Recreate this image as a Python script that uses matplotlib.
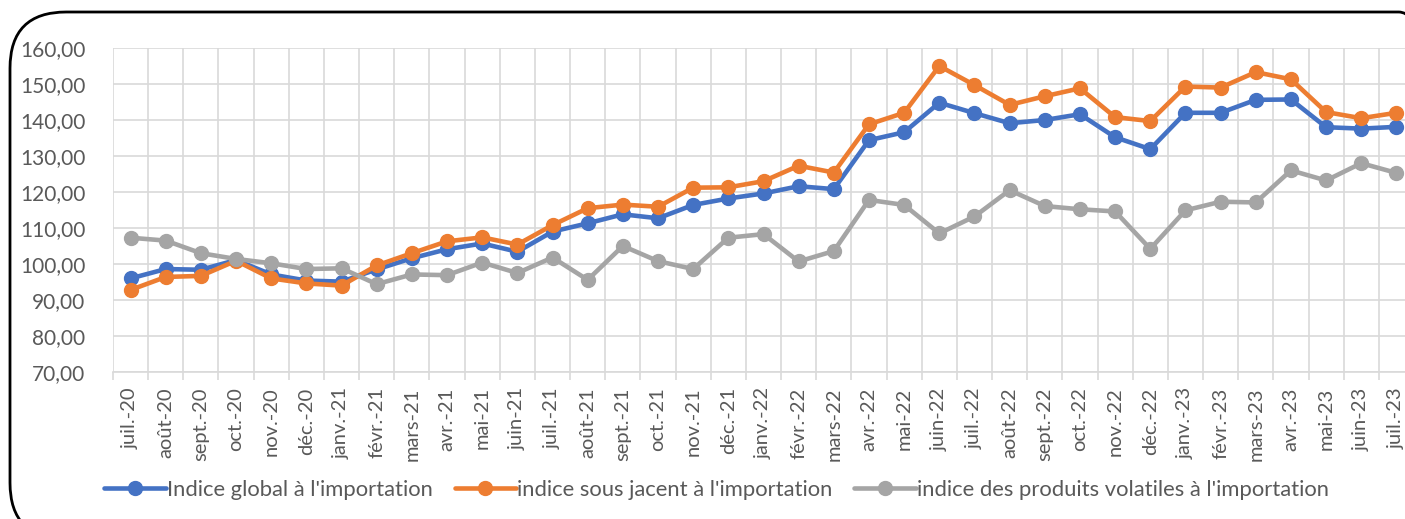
import matplotlib.pyplot as plt
from matplotlib.patches import FancyBboxPatch
from matplotlib.ticker import FuncFormatter, FixedLocator

months = ["juil.-20", "août-20", "sept.-20", "oct.-20", "nov.-20", "déc.-20",
          "janv.-21", "févr.-21", "mars-21", "avr.-21", "mai-21", "juin-21",
          "juil.-21", "août-21", "sept.-21", "oct.-21", "nov.-21", "déc.-21",
          "janv.-22", "févr.-22", "mars-22", "avr.-22", "mai-22", "juin-22",
          "juil.-22", "août-22", "sept.-22", "oct.-22", "nov.-22", "déc.-22",
          "janv.-23", "févr.-23", "mars-23", "avr.-23", "mai-23", "juin-23",
          "juil.-23"]

indice_global = [96.0, 98.6, 98.4, 101.1, 97.1, 95.4, 95.1, 98.5, 101.6, 104.1,
                 105.7, 103.4, 109.0, 111.3, 113.8, 112.7, 116.4, 118.2, 119.6,
                 121.6, 120.8, 134.4, 136.6, 144.8, 141.9, 139.1, 140.0, 141.6,
                 135.2, 131.9, 142.0, 142.0, 145.6, 145.7, 138.0, 137.6, 138.1]

indice_sous_jacent = [92.8, 96.4, 96.7, 100.9, 96.0, 94.6, 94.0, 99.6, 103.0, 106.3,
                      107.4, 105.4, 110.8, 115.5, 116.5, 115.9, 121.2, 121.3, 123.0,
                      127.3, 125.4, 138.8, 142.0, 155.0, 149.7, 144.2, 146.6, 148.8,
                      140.8, 139.7, 149.3, 149.0, 153.3, 151.3, 142.2, 140.5, 142.0]

indice_volatiles = [107.3, 106.5, 103.0, 101.4, 100.2, 98.6, 98.8, 94.4, 97.1, 96.9,
                    100.4, 97.5, 101.8, 95.6, 105.0, 100.8, 98.6, 107.3, 108.3,
                    100.7, 103.6, 117.8, 116.4, 108.5, 113.2, 120.5, 116.1, 115.2,
                    114.6, 104.2, 114.9, 117.3, 117.1, 126.0, 123.2, 128.0, 125.3]

series = [
    ("Indice global à l'importation", indice_global, "#4472C4"),
    ("indice sous jacent à l'importation", indice_sous_jacent, "#ED7D31"),
    ("indice des produits volatiles à l'importation", indice_volatiles, "#A5A5A5"),
]

plt.rcParams['font.family'] = ['Lato', 'DejaVu Sans']

W, H = 1405, 519
fig = plt.figure(figsize=(W / 100, H / 100), dpi=100)

# plot area in pixels: left 113, top 48, bottom 372, right past the crop
left, top, bottom, right = 113, 48, 372, 1414
ax = fig.add_axes([left / W, 1 - bottom / H, (right - left) / W, (bottom - top) / H])

x = list(range(len(months)))
for label, vals, color in series:
    ax.plot(x, vals, color=color, lw=3.3, marker='o', ms=10, label=label,
            solid_capstyle='round', clip_on=False)

ax.set_xlim(-0.5, len(months) - 0.5)
ax.set_ylim(70, 160)
ax.set_yticks(range(70, 161, 10))
ax.yaxis.set_major_formatter(FuncFormatter(lambda v, p: f"{v:.2f}".replace('.', ',')))
ax.set_xticks(x)
ax.set_xticklabels(months, rotation=90, fontsize=14.5, color='#595959')
ax.xaxis.set_minor_locator(FixedLocator([i - 0.5 for i in range(len(months) + 1)]))
ax.tick_params(axis='x', which='major', length=0, pad=11)
ax.tick_params(axis='x', which='minor', length=6, color='#d9d9d9', width=1.2)
ax.tick_params(axis='y', length=0, labelsize=15, labelcolor='#595959', pad=20)

ax.grid(True, which='minor', axis='x', color='#d9d9d9', lw=1.2)
ax.grid(True, which='major', axis='y', color='#d9d9d9', lw=1.2)
ax.set_axisbelow(True)
for s in ['top', 'right', 'left']:
    ax.spines[s].set_visible(False)
ax.spines['bottom'].set_color('#d9d9d9')
ax.spines['bottom'].set_linewidth(1.2)

fig.legend(loc='center', bbox_to_anchor=(0.51, 1 - 490 / H), ncol=3, frameon=False,
           fontsize=15.8, labelcolor='#595959', handlelength=2.8, handletextpad=0.05,
           columnspacing=1.0)

# rounded chart border, cut off on the right like the original
border = FancyBboxPatch((10 / W, -20 / H), (W + 40) / W, (H - 12 + 20) / H,
                        boxstyle="round,pad=0,rounding_size=0.04",
                        transform=fig.transFigure, fill=False, ec='black', lw=2,
                        mutation_aspect=W / H)
fig.patches.append(border)

fig.savefig('out.png', dpi=100)
